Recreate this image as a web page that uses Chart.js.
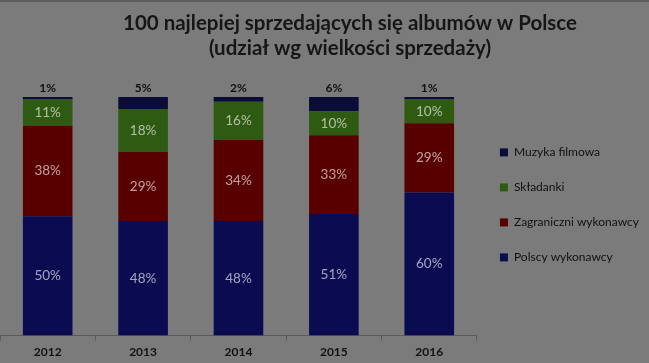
<!DOCTYPE html>
<html>
<head>
<meta charset="utf-8">
<script src="https://cdn.jsdelivr.net/npm/chart.js@4/dist/chart.umd.min.js"></script>
<style>
  html, body { margin: 0; padding: 0; background: #7b7b7b; }
  #wrap { position: relative; width: 649px; height: 363px; background: #7b7b7b; overflow: hidden; }
  #wrap::before { content: ""; position: absolute; left: 0; top: 0; width: 649px; height: 2px; background: #5c5c5c; }
  canvas { display: block; }
</style>
</head>
<body>
<div id="wrap"><canvas id="c" width="649" height="363"></canvas></div>
<script>
const titleLines = ["100 najlepiej sprzedających się albumów w Polsce", "(udział wg wielkości sprzedaży)"];
const categories = ["2012", "2013", "2014", "2015", "2016"];
const polscy = [50, 48, 48, 51, 60];
const zagraniczni = [38, 29, 34, 33, 29];
const skladanki = [11, 18, 16, 10, 10];
const filmowa = [1, 5, 2, 6, 1];
const seriesNames = ["Polscy wykonawcy", "Zagraniczni wykonawcy", "Składanki", "Muzyka filmowa"];
const seriesColors = ["#0b0b52", "#580000", "#2e5a12", "#0c0c38"];

const FONT = "Lato, 'Liberation Sans', sans-serif";

const titlePlugin = {
  id: 'customTitle',
  afterDraw(chart) {
    const ctx = chart.ctx;
    ctx.save();
    ctx.fillStyle = '#161616';
    ctx.font = "bold 20.5px " + FONT;
    ctx.textAlign = 'center';
    ctx.textBaseline = 'middle';
    ctx.fillText(titleLines[0], 350, 23);
    ctx.fillText(titleLines[1], 350, 48);
    ctx.restore();
  }
};

const labelPlugin = {
  id: 'segLabels',
  afterDatasetsDraw(chart) {
    const ctx = chart.ctx;
    ctx.save();
    ctx.textAlign = 'center';
    ctx.textBaseline = 'middle';
    chart.data.datasets.forEach((ds, di) => {
      const meta = chart.getDatasetMeta(di);
      meta.data.forEach((el, i) => {
        const v = ds.data[i];
        const txt = v + '%';
        if (di === 3) {
          ctx.font = "bold 12px " + FONT;
          ctx.fillStyle = '#111111';
          ctx.fillText(txt, el.x, Math.min(el.y, el.base) - 9);
        } else {
          ctx.font = "13.5px " + FONT;
          ctx.fillStyle = 'rgba(255,255,255,0.62)';
          ctx.fillText(txt, el.x, (el.y + el.base) / 2);
        }
      });
    });
    ctx.restore();
  }
};

const datasets = [polscy, zagraniczni, skladanki, filmowa].map((d, k) => ({
  label: seriesNames[k],
  data: d,
  backgroundColor: seriesColors[k],
  borderWidth: 0,
  categoryPercentage: 0.52,
  barPercentage: 1
}));

new Chart(document.getElementById('c'), {
  type: 'bar',
  data: { labels: categories, datasets },
  options: {
    responsive: false,
    animation: false,
    layout: { padding: { top: 97, bottom: 0, left: 0, right: 0 } },
    plugins: {
      title: { display: false },
      tooltip: { enabled: false },
      legend: {
        position: 'right',
        align: 'start',
        reverse: true,
        title: { display: true, text: '', font: { size: 12 }, padding: { top: 12, bottom: 0 } },
        labels: {
          boxWidth: 8,
          boxHeight: 8,
          padding: 23,
          color: '#111111',
          font: { family: FONT, size: 12 }
        }
      }
    },
    scales: {
      x: {
        stacked: true,
        grid: { display: true, drawOnChartArea: false, offset: true, tickLength: 5, color: '#5a5a5a' },
        border: { display: true, color: '#5a5a5a' },
        ticks: { color: '#111111', font: { family: FONT, size: 12, weight: 'bold' }, padding: 4 }
      },
      y: {
        stacked: true,
        display: false,
        min: 0,
        max: 100
      }
    }
  },
  plugins: [titlePlugin, labelPlugin]
});
</script>
</body>
</html>
